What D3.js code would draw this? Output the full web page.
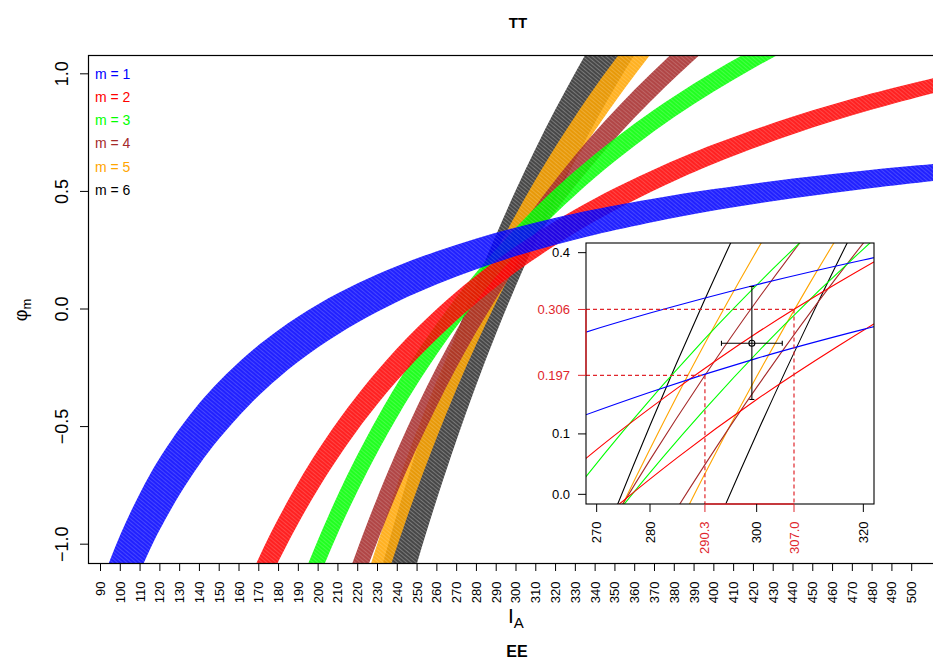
<!DOCTYPE html>
<html>
<head>
<meta charset="utf-8">
<script src="https://cdn.jsdelivr.net/npm/d3@7"></script>
<style>
  body { margin: 0; background: #fff; }
  svg { display: block; }
</style>
</head>
<body>
<svg id="chart" width="933" height="659"></svg>
<script>
// band labels and colours (m = 1..6)
const bandLabels = ['m = 1', 'm = 2', 'm = 3', 'm = 4', 'm = 5', 'm = 6'];
const bandColors = ['#0000ff', '#ff0000', '#00ff00', '#a52a2a', '#ffa500', '#000000'];

// I_A positions read for each band
const bandIA = [
  [90, 95, 100, 105, 110, 115, 120, 130, 140, 150, 165, 180, 200, 220, 240, 260, 280, 300, 320, 340, 370, 400, 440, 480, 520],
  [160, 165, 170, 175, 180, 190, 200, 215, 230, 250, 270, 285, 300, 315, 330, 350, 375, 400, 440, 480, 520],
  [185, 190, 195, 200, 205, 210, 220, 230, 245, 260, 275, 290, 305, 320, 340, 360, 380, 400, 420, 440, 460],
  [205, 210, 215, 220, 225, 230, 240, 250, 260, 270, 280, 290, 300, 315, 330, 345, 360, 375, 390, 405, 420],
  [215, 220, 225, 230, 235, 240, 250, 260, 270, 280, 290, 300, 310, 320, 330, 340, 355, 370, 385, 400],
  [220, 225, 230, 235, 240, 245, 250, 255, 260, 270, 280, 290, 300, 310, 320, 330, 340, 350, 360, 370, 385],
];
// upper edge of each band (phi_m)
const bandUpper = [
  [-1.178, -1.063, -0.960, -0.867, -0.782, -0.704, -0.633, -0.508, -0.400, -0.307, -0.188, -0.089, 0.020, 0.109, 0.183, 0.246, 0.300, 0.347, 0.388, 0.424, 0.470, 0.510, 0.555, 0.592, 0.623],
  [-1.250, -1.152, -1.059, -0.971, -0.889, -0.737, -0.600, -0.419, -0.261, -0.080, 0.074, 0.175, 0.267, 0.349, 0.424, 0.514, 0.613, 0.700, 0.818, 0.917, 1.000],
  [-1.303, -1.189, -1.082, -0.980, -0.883, -0.790, -0.618, -0.461, -0.249, -0.062, 0.105, 0.255, 0.390, 0.513, 0.659, 0.789, 0.905, 1.010, 1.105, 1.191, 1.270],
  [-1.385, -1.257, -1.135, -1.018, -0.907, -0.800, -0.600, -0.416, -0.246, -0.089, 0.057, 0.193, 0.320, 0.495, 0.655, 0.800, 0.933, 1.056, 1.169, 1.274, 1.371],
  [-1.414, -1.268, -1.129, -0.996, -0.868, -0.746, -0.516, -0.304, -0.107, 0.075, 0.245, 0.403, 0.552, 0.691, 0.821, 0.944, 1.115, 1.273, 1.418, 1.553],
  [-1.491, -1.324, -1.165, -1.013, -0.867, -0.727, -0.592, -0.463, -0.338, -0.104, 0.114, 0.317, 0.507, 0.684, 0.850, 1.006, 1.153, 1.291, 1.422, 1.546, 1.719],
];
// lower edge of each band (phi_m)
const bandLower = [
  [-1.584, -1.448, -1.326, -1.215, -1.115, -1.023, -0.938, -0.789, -0.661, -0.551, -0.410, -0.292, -0.163, -0.057, 0.031, 0.105, 0.169, 0.225, 0.273, 0.316, 0.371, 0.419, 0.471, 0.515, 0.553],
  [-1.456, -1.352, -1.253, -1.160, -1.072, -0.911, -0.765, -0.572, -0.404, -0.212, -0.048, 0.060, 0.157, 0.244, 0.324, 0.420, 0.525, 0.618, 0.743, 0.848, 0.937],
  [-1.486, -1.368, -1.256, -1.150, -1.049, -0.952, -0.773, -0.609, -0.388, -0.192, -0.018, 0.138, 0.279, 0.406, 0.559, 0.694, 0.816, 0.925, 1.024, 1.114, 1.196],
  [-1.595, -1.462, -1.335, -1.214, -1.098, -0.987, -0.779, -0.588, -0.412, -0.248, -0.096, 0.045, 0.177, 0.359, 0.524, 0.675, 0.814, 0.941, 1.059, 1.168, 1.269],
  [-1.705, -1.553, -1.407, -1.268, -1.134, -1.007, -0.766, -0.545, -0.339, -0.149, 0.029, 0.195, 0.350, 0.495, 0.632, 0.760, 0.939, 1.104, 1.256, 1.396],
  [-2.045, -1.867, -1.696, -1.532, -1.375, -1.224, -1.080, -0.941, -0.808, -0.556, -0.321, -0.103, 0.100, 0.290, 0.469, 0.636, 0.794, 0.943, 1.083, 1.216, 1.403],
];

// axis ticks
const xTicks = d3.range(90, 501, 10);
const yTicks = [-1, -0.5, 0, 0.5, 1];
const insetXTicks = [270, 280, 300, 320];
const insetYTicks = [0, 0.1, 0.4];

// highlighted intervals and estimate
const rangeIA = [290.3, 307.0];
const rangePhi = [0.197, 0.306];
const estIA = [293.4, 299.1, 304.8];
const estPhi = [0.157, 0.25, 0.344];

const font = "'Liberation Sans', Arial, Helvetica, sans-serif";
const hiRed = '#e0262c';

const svg = d3.select('#chart');
const plot = { left: 88, right: 940, top: 55, bottom: 563 };
const inset = { left: 586, right: 874, top: 243, bottom: 504 };

const x = d3.scaleLinear().domain([83.68, 514.3]).range([plot.left, plot.right]);
const y = d3.scaleLinear().domain([-1.08, 1.08]).range([plot.bottom, plot.top]);
const xi = d3.scaleLinear().domain([268, 322]).range([inset.left, inset.right]);
const yi = d3.scaleLinear().domain([-0.016, 0.416]).range([inset.bottom, inset.top]);

function bandRows(k) {
  return bandIA[k].map((ia, i) => ({ ia, up: bandUpper[k][i], lo: bandLower[k][i] }));
}

const defs = svg.append('defs');
defs.append('clipPath').attr('id', 'clipMain')
  .append('rect')
  .attr('x', plot.left).attr('y', plot.top)
  .attr('width', plot.right - plot.left).attr('height', plot.bottom - plot.top);
defs.append('clipPath').attr('id', 'clipInset')
  .append('rect')
  .attr('x', inset.left).attr('y', inset.top)
  .attr('width', inset.right - inset.left).attr('height', inset.bottom - inset.top);

// fine hatching, like the dense family of curves in each band
bandColors.forEach((c, k) => {
  const p = defs.append('pattern')
    .attr('id', `hatch${k}`)
    .attr('patternUnits', 'userSpaceOnUse')
    .attr('width', 3).attr('height', 3)
    .attr('patternTransform', 'rotate(40)');
  p.append('rect').attr('width', 3).attr('height', 3).attr('fill', c);
  p.append('line')
    .attr('x1', 0).attr('x2', 3).attr('y1', 1.5).attr('y2', 1.5)
    .attr('stroke', '#fff').attr('stroke-opacity', k === 5 ? 0.35 : 0.22).attr('stroke-width', 0.8);
});

function drawBands() {
  const area = d3.area()
    .x((d) => x(d.ia))
    .y0((d) => y(d.lo))
    .y1((d) => y(d.up))
    .curve(d3.curveCatmullRom.alpha(0.5));

  const g = svg.append('g').attr('clip-path', 'url(#clipMain)');
  // m = 6 first, m = 1 on top
  for (let k = bandIA.length - 1; k >= 0; k--) {
    g.append('path')
      .attr('d', area(bandRows(k)))
      .attr('fill', `url(#hatch${k})`)
      .attr('fill-opacity', k === 5 ? 0.72 : 0.87)
      .attr('stroke', 'none');
  }
}

function drawMainAxes() {
  svg.append('rect')
    .attr('x', plot.left + 0.5).attr('y', plot.top + 0.5)
    .attr('width', plot.right - plot.left).attr('height', plot.bottom - plot.top)
    .attr('fill', 'none').attr('stroke', '#000').attr('stroke-width', 1.2);

  const gx = svg.append('g');
  gx.selectAll('line').data(xTicks).enter().append('line')
    .attr('x1', (d) => x(d)).attr('x2', (d) => x(d))
    .attr('y1', plot.bottom).attr('y2', plot.bottom + 8)
    .attr('stroke', '#000').attr('stroke-width', 1);
  gx.selectAll('text').data(xTicks).enter().append('text')
    .attr('transform', (d) => `translate(${x(d)}, ${plot.bottom + 18.5}) rotate(-90)`)
    .attr('text-anchor', 'end')
    .attr('dominant-baseline', 'central')
    .attr('font-family', font)
    .attr('font-size', 13)
    .attr('fill', '#000')
    .text((d) => d);

  const gy = svg.append('g');
  gy.selectAll('line').data(yTicks).enter().append('line')
    .attr('x1', plot.left - 8).attr('x2', plot.left)
    .attr('y1', (d) => y(d)).attr('y2', (d) => y(d))
    .attr('stroke', '#000').attr('stroke-width', 1);
  gy.selectAll('text').data(yTicks).enter().append('text')
    .attr('transform', (d) => `translate(${plot.left - 20}, ${y(d)}) rotate(-90)`)
    .attr('text-anchor', 'middle')
    .attr('font-family', font)
    .attr('font-size', 18)
    .attr('fill', '#000')
    .text((d) => d3.format('.1f')(d).replace('-', '\u2212'));

  // axis titles
  const xl = svg.append('text')
    .attr('x', 508).attr('y', 623)
    .attr('font-family', font).attr('font-size', 21).attr('fill', '#000');
  xl.append('tspan').text('I');
  xl.append('tspan').attr('dy', 5).attr('font-size', 15).text('A');

  const yl = svg.append('text')
    .attr('transform', 'translate(27, 310) rotate(-90)')
    .attr('text-anchor', 'middle')
    .attr('font-family', font).attr('font-size', 18).attr('fill', '#000');
  yl.append('tspan').text('\u03c6');
  yl.append('tspan').attr('dy', 4).attr('font-size', 13).text('m');

  svg.append('text')
    .attr('x', 518).attr('y', 28)
    .attr('text-anchor', 'middle')
    .attr('font-family', font).attr('font-size', 15).attr('font-weight', 'bold')
    .text('TT');
  svg.append('text')
    .attr('x', 517).attr('y', 657)
    .attr('text-anchor', 'middle')
    .attr('font-family', font).attr('font-size', 16).attr('font-weight', 'bold')
    .text('EE');
}

function drawLegend() {
  svg.append('g').selectAll('text').data(bandLabels).enter().append('text')
    .attr('x', 95)
    .attr('y', (d, i) => 73.5 + i * 23.3)
    .attr('dominant-baseline', 'central')
    .attr('font-family', font)
    .attr('font-size', 14)
    .attr('fill', (d, i) => bandColors[i])
    .text((d) => d);
}

function drawInset() {
  svg.append('rect')
    .attr('x', inset.left).attr('y', inset.top)
    .attr('width', inset.right - inset.left).attr('height', inset.bottom - inset.top)
    .attr('fill', '#fff');

  const line = d3.line()
    .x((d) => xi(d.ia))
    .y((d) => yi(d.v))
    .curve(d3.curveCatmullRom.alpha(0.5));

  const g = svg.append('g').attr('clip-path', 'url(#clipInset)');
  for (let k = bandIA.length - 1; k >= 0; k--) {
    const rows = bandRows(k);
    [rows.map((r) => ({ ia: r.ia, v: r.up })), rows.map((r) => ({ ia: r.ia, v: r.lo }))]
      .forEach((pts) => {
        g.append('path')
          .attr('d', line(pts))
          .attr('fill', 'none')
          .attr('stroke', bandColors[k])
          .attr('stroke-width', 1.1);
      });
  }

  // dashed guides to the interval ends
  const dash = svg.append('g')
    .attr('stroke', hiRed).attr('stroke-width', 1.2).attr('stroke-dasharray', '4,3').attr('fill', 'none');
  rangeIA.forEach((ia, i) => {
    dash.append('line')
      .attr('x1', inset.left).attr('x2', xi(ia))
      .attr('y1', yi(rangePhi[i])).attr('y2', yi(rangePhi[i]));
    dash.append('line')
      .attr('x1', xi(ia)).attr('x2', xi(ia))
      .attr('y1', yi(rangePhi[i])).attr('y2', inset.bottom);
  });

  // estimate with error bars
  const eb = svg.append('g').attr('stroke', '#000').attr('stroke-width', 1.1).attr('fill', 'none');
  eb.append('line')
    .attr('x1', xi(estIA[0])).attr('x2', xi(estIA[2]))
    .attr('y1', yi(estPhi[1])).attr('y2', yi(estPhi[1]));
  eb.append('line')
    .attr('x1', xi(estIA[1])).attr('x2', xi(estIA[1]))
    .attr('y1', yi(estPhi[0])).attr('y2', yi(estPhi[2]));
  [estIA[0], estIA[2]].forEach((v) => {
    eb.append('line')
      .attr('x1', xi(v)).attr('x2', xi(v))
      .attr('y1', yi(estPhi[1]) - 2.5).attr('y2', yi(estPhi[1]) + 2.5);
  });
  [estPhi[0], estPhi[2]].forEach((v) => {
    eb.append('line')
      .attr('x1', xi(estIA[1]) - 2.5).attr('x2', xi(estIA[1]) + 2.5)
      .attr('y1', yi(v)).attr('y2', yi(v));
  });
  eb.append('circle')
    .attr('cx', xi(estIA[1])).attr('cy', yi(estPhi[1])).attr('r', 3);

  // frame
  svg.append('rect')
    .attr('x', inset.left).attr('y', inset.top)
    .attr('width', inset.right - inset.left).attr('height', inset.bottom - inset.top)
    .attr('fill', 'none').attr('stroke', '#000').attr('stroke-width', 1.1);

  // highlighted intervals on the frame
  svg.append('line')
    .attr('x1', inset.left).attr('x2', inset.left)
    .attr('y1', yi(rangePhi[0])).attr('y2', yi(rangePhi[1]))
    .attr('stroke', hiRed).attr('stroke-width', 1.4);
  svg.append('line')
    .attr('x1', xi(rangeIA[0])).attr('x2', xi(rangeIA[1]))
    .attr('y1', inset.bottom).attr('y2', inset.bottom)
    .attr('stroke', hiRed).attr('stroke-width', 1.4);

  // inset axes
  const xt = insetXTicks.map((v) => ({ v, label: String(v), color: '#000' }))
    .concat(rangeIA.map((v) => ({ v, label: v.toFixed(1), color: hiRed })));
  const yt = insetYTicks.map((v) => ({ v, label: String(v.toFixed(1)), color: '#000' }))
    .concat(rangePhi.map((v) => ({ v, label: v.toFixed(3), color: hiRed })));

  const gx = svg.append('g');
  gx.selectAll('line').data(xt).enter().append('line')
    .attr('x1', (d) => xi(d.v)).attr('x2', (d) => xi(d.v))
    .attr('y1', inset.bottom).attr('y2', inset.bottom + 8)
    .attr('stroke', (d) => d.color).attr('stroke-width', 1);
  gx.selectAll('text').data(xt).enter().append('text')
    .attr('transform', (d) => `translate(${xi(d.v)}, ${inset.bottom + 17.5}) rotate(-90)`)
    .attr('text-anchor', 'end')
    .attr('dominant-baseline', 'central')
    .attr('font-family', font)
    .attr('font-size', 13)
    .attr('fill', (d) => d.color)
    .text((d) => d.label);

  const gy = svg.append('g');
  gy.selectAll('line').data(yt).enter().append('line')
    .attr('x1', inset.left - 8).attr('x2', inset.left)
    .attr('y1', (d) => yi(d.v)).attr('y2', (d) => yi(d.v))
    .attr('stroke', (d) => d.color).attr('stroke-width', 1);
  gy.selectAll('text').data(yt).enter().append('text')
    .attr('x', inset.left - 16)
    .attr('y', (d) => yi(d.v))
    .attr('text-anchor', 'end')
    .attr('dominant-baseline', 'central')
    .attr('font-family', font)
    .attr('font-size', 13)
    .attr('fill', (d) => d.color)
    .text((d) => d.label);
}

drawBands();
drawMainAxes();
drawLegend();
drawInset();
</script>
</body>
</html>
